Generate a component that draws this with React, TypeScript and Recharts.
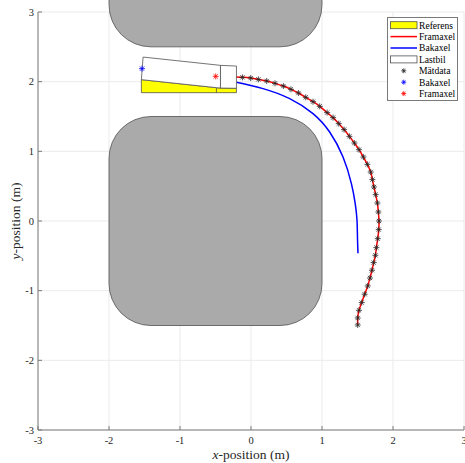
import React from 'react';
import {
  ComposedChart,
  Scatter,
  XAxis,
  YAxis,
  CartesianGrid,
  ReferenceArea,
  Legend,
  Rectangle,
} from 'recharts';

// ---------- data ----------
const xTicks = [-3, -2, -1, 0, 1, 2, 3];
const yTicks = [-3, -2, -1, 0, 1, 2, 3];

// obstacles (x1, x2, y1, y2)
const obstacleTop = { x1: -2, x2: 1, y1: 2.5, y2: 4 };
const obstacleMid = { x1: -2, x2: 1, y1: -1.5, y2: 1.5 };

// measured front-axle positions (Mätdata)
const matX = [-0.121, -0.004, 0.104, 0.221, 0.338, 0.456, 0.563, 0.668, 0.771, 0.874, 0.968, 1.072, 1.156, 1.236, 1.311, 1.386, 1.456, 1.521, 1.583, 1.639, 1.686, 1.710, 1.732, 1.756, 1.780, 1.794, 1.803, 1.799, 1.785, 1.766, 1.752, 1.728, 1.704, 1.676, 1.644, 1.601, 1.559, 1.521, 1.503, 1.503];
const matY = [2.062, 2.052, 2.033, 2.010, 1.976, 1.937, 1.890, 1.837, 1.775, 1.713, 1.646, 1.556, 1.484, 1.398, 1.312, 1.215, 1.119, 1.024, 0.918, 0.813, 0.703, 0.594, 0.488, 0.379, 0.258, 0.129, 0.000, -0.123, -0.253, -0.382, -0.492, -0.597, -0.707, -0.818, -0.932, -1.051, -1.171, -1.282, -1.392, -1.492];

// front axle path (Framaxel)
const frontX = [-0.206, -0.121, -0.004, 0.104, 0.221, 0.338, 0.456, 0.563, 0.668, 0.771, 0.874, 0.968, 1.072, 1.156, 1.236, 1.311, 1.386, 1.456, 1.521, 1.583, 1.639, 1.686, 1.710, 1.732, 1.756, 1.780, 1.794, 1.803, 1.799, 1.785, 1.766, 1.752, 1.728, 1.704, 1.676, 1.644, 1.601, 1.559, 1.521, 1.503, 1.503];
const frontY = [2.066, 2.062, 2.052, 2.033, 2.010, 1.976, 1.937, 1.890, 1.837, 1.775, 1.713, 1.646, 1.556, 1.484, 1.398, 1.312, 1.215, 1.119, 1.024, 0.918, 0.813, 0.703, 0.594, 0.488, 0.379, 0.258, 0.129, 0.000, -0.123, -0.253, -0.382, -0.492, -0.597, -0.707, -0.818, -0.932, -1.051, -1.171, -1.282, -1.392, -1.492];

// rear axle path (Bakaxel)
const rearX = [-0.206, 0.169, 0.545, 0.873, 1.108, 1.296, 1.414, 1.468, 1.493, 1.500, 1.507];
const rearY = [1.992, 1.900, 1.756, 1.541, 1.277, 0.918, 0.537, 0.250, 0.010, -0.250, -0.463];

// reference truck (Referens), visible part
const refX = [-1.544, -0.205, -0.205, -0.430, -0.487, -1.544];
const refY = [1.842, 1.842, 1.905, 1.908, 1.914, 2.029];
const refDivX = [-0.487, -0.487];
const refDivY = [1.842, 1.914];

// truck (Lastbil): trailer and cab
const trailerX = [-1.520, -0.430, -0.430, -0.487, -1.544];
const trailerY = [2.353, 2.234, 1.908, 1.914, 2.029];
const cabX = [-0.430, -0.205, -0.205, -0.430];
const cabY = [2.234, 2.224, 1.905, 1.908];

// current axle estimates
const rearStarX = [-1.535];
const rearStarY = [2.187];
const frontStarX = [-0.497];
const frontStarY = [2.076];

const legendLabels = ['Referens', 'Framaxel', 'Bakaxel', 'Lastbil', 'Mätdata', 'Bakaxel', 'Framaxel'];

const zip = (xs: number[], ys: number[]) => xs.map((x, i) => ({ x, y: ys[i] }));

// ---------- styles ----------
const FONT = "'Liberation Serif', 'Times New Roman', serif";
const AXIS_COLOR = '#7a7a7a';
const EDGE = '#505050';

const noShape = () => <g />;

const polygonLine = (fill: string, stroke: string) => (props: any) => {
  const pts = (props.points || []) as { x: number; y: number }[];
  return (
    <polygon
      points={pts.map((p) => `${p.x},${p.y}`).join(' ')}
      fill={fill}
      stroke={stroke}
      strokeWidth={0.8}
    />
  );
};

const segmentLine = (stroke: string) => (props: any) => {
  const pts = (props.points || []) as { x: number; y: number }[];
  return (
    <polyline
      points={pts.map((p) => `${p.x},${p.y}`).join(' ')}
      fill="none"
      stroke={stroke}
      strokeWidth={0.8}
    />
  );
};

const starShape = (color: string, r = 3) => (props: any) => {
  const { cx, cy } = props;
  const d = r * 0.7071;
  return (
    <g stroke={color} strokeWidth={0.8}>
      <line x1={cx - r} y1={cy} x2={cx + r} y2={cy} />
      <line x1={cx} y1={cy - r} x2={cx} y2={cy + r} />
      <line x1={cx - d} y1={cy - d} x2={cx + d} y2={cy + d} />
      <line x1={cx - d} y1={cy + d} x2={cx + d} y2={cy - d} />
    </g>
  );
};

const XTickBottom = (props: any) => {
  const { x, y, payload } = props;
  return (
    <g>
      <line x1={x} y1={y} x2={x} y2={y - 4} stroke={AXIS_COLOR} />
      <text x={x} y={y + 14} textAnchor="middle" fontFamily={FONT} fontSize={10.5} fill="#262626">
        {payload.value}
      </text>
    </g>
  );
};

const XTickTop = (props: any) => {
  const { x, y } = props;
  return <line x1={x} y1={y} x2={x} y2={y + 4} stroke={AXIS_COLOR} />;
};

const YTickLeft = (props: any) => {
  const { x, y, payload } = props;
  return (
    <g>
      <line x1={x} y1={y} x2={x + 4} y2={y} stroke={AXIS_COLOR} />
      <text x={x - 4} y={y + 3.5} textAnchor="end" fontFamily={FONT} fontSize={10.5} fill="#262626">
        {payload.value}
      </text>
    </g>
  );
};

const YTickRight = (props: any) => {
  const { x, y } = props;
  return <line x1={x} y1={y} x2={x - 4} y2={y} stroke={AXIS_COLOR} />;
};

const XLabel = (props: any) => {
  const vb = props.viewBox || {};
  const cx = (vb.x || 0) + (vb.width || 0) / 2;
  return (
    <text x={cx} y={459} textAnchor="middle" fontFamily={FONT} fontSize={13.5} fill="#262626">
      <tspan fontStyle="italic">x</tspan>-position (m)
    </text>
  );
};

const YLabel = (props: any) => {
  const vb = props.viewBox || {};
  const cy = (vb.y || 0) + (vb.height || 0) / 2;
  return (
    <text
      x={19.5}
      y={cy}
      transform={`rotate(-90, 19.5, ${cy})`}
      textAnchor="middle"
      fontFamily={FONT}
      fontSize={13.5}
      fill="#262626"
    >
      <tspan fontStyle="italic">y</tspan>-position (m)
    </text>
  );
};

const LegendBox = () => {
  const rowY = (i: number) => 8.2 + i * 11.4;
  const iconL = 3.5;
  const iconR = 30;
  const iconMid = (iconL + iconR) / 2;
  const icons = [
    <rect key="i0" x={iconL} y={rowY(0) - 3.5} width={iconR - iconL} height={7} fill="#ffff00" stroke={EDGE} strokeWidth={0.8} />,
    <line key="i1" x1={iconL} y1={rowY(1)} x2={iconR} y2={rowY(1)} stroke="#ff0000" strokeWidth={1.5} />,
    <line key="i2" x1={iconL} y1={rowY(2)} x2={iconR} y2={rowY(2)} stroke="#0000ff" strokeWidth={1.5} />,
    <rect key="i3" x={iconL} y={rowY(3) - 3.5} width={iconR - iconL} height={7} fill="#ffffff" stroke={EDGE} strokeWidth={0.8} />,
    <g key="i4">{starShape('#262626', 2.5)({ cx: iconMid, cy: rowY(4) })}</g>,
    <g key="i5">{starShape('#0000ff', 2.5)({ cx: iconMid, cy: rowY(5) })}</g>,
    <g key="i6">{starShape('#ff0000', 2.5)({ cx: iconMid, cy: rowY(6) })}</g>,
  ];
  return (
    <svg width={71} height={84} style={{ display: 'block' }}>
      <rect x={0.5} y={0.5} width={70} height={83} fill="#ffffff" stroke={AXIS_COLOR} strokeWidth={1} />
      {icons}
      {legendLabels.map((t, i) => (
        <text key={i} x={32} y={rowY(i) + 3.3} fontFamily={FONT} fontSize={9.6} fill="#000000">
          {t}
        </text>
      ))}
    </svg>
  );
};

const obstacleShape = (radius: number[]) => (props: any) => (
  <Rectangle
    x={props.x}
    y={props.y}
    width={props.width}
    height={props.height}
    radius={radius as any}
    fill="#aaaaaa"
    stroke={EDGE}
    strokeWidth={0.8}
  />
);

export default function App() {
  return (
    <div style={{ position: 'absolute', left: 0, top: 0 }}>
      <ComposedChart
        width={465}
        height={463}
        margin={{ top: 12, right: 1, bottom: 0, left: 0 }}
        style={{ background: '#ffffff' }}
      >
        <CartesianGrid stroke="#ebebeb" strokeWidth={1} />
        <XAxis
          xAxisId={0}
          dataKey="x"
          type="number"
          domain={[-3, 3]}
          ticks={xTicks}
          interval={0}
          allowDataOverflow
          height={33}
          tickSize={0}
          tickMargin={0}
          tickLine={false}
          tick={<XTickBottom />}
          axisLine={{ stroke: AXIS_COLOR }}
          label={{ content: <XLabel /> } as any}
        />
        <XAxis
          xAxisId="top"
          orientation="top"
          type="number"
          domain={[-3, 3]}
          ticks={xTicks}
          interval={0}
          height={0}
          tickSize={0}
          tickMargin={0}
          tickLine={false}
          tick={<XTickTop />}
          axisLine={{ stroke: AXIS_COLOR }}
        />
        <YAxis
          yAxisId={0}
          dataKey="y"
          type="number"
          domain={[-3, 3]}
          ticks={yTicks}
          interval={0}
          allowDataOverflow
          width={38}
          tickSize={0}
          tickMargin={0}
          tickLine={false}
          tick={<YTickLeft />}
          axisLine={{ stroke: AXIS_COLOR }}
          label={{ content: <YLabel /> } as any}
        />
        <YAxis
          yAxisId="right"
          orientation="right"
          type="number"
          domain={[-3, 3]}
          ticks={yTicks}
          interval={0}
          width={0}
          tickSize={0}
          tickMargin={0}
          tickLine={false}
          tick={<YTickRight />}
          axisLine={{ stroke: AXIS_COLOR }}
        />

        <ReferenceArea
          xAxisId={0}
          yAxisId={0}
          x1={obstacleTop.x1}
          x2={obstacleTop.x2}
          y1={obstacleTop.y1}
          y2={obstacleTop.y2}
          ifOverflow="hidden"
          shape={obstacleShape([0, 0, 42, 42])}
        />
        <ReferenceArea
          xAxisId={0}
          yAxisId={0}
          x1={obstacleMid.x1}
          x2={obstacleMid.x2}
          y1={obstacleMid.y1}
          y2={obstacleMid.y2}
          ifOverflow="hidden"
          shape={obstacleShape([42, 42, 42, 42])}
        />

        <Scatter
          name="Referens"
          data={zip(refX, refY)}
          shape={noShape}
          line={polygonLine('#ffff00', EDGE)}
          isAnimationActive={false}
        />
        <Scatter
          name="RefDiv"
          data={zip(refDivX, refDivY)}
          shape={noShape}
          line={segmentLine(EDGE)}
          isAnimationActive={false}
        />
        <Scatter
          name="Framaxel"
          data={zip(frontX, frontY)}
          shape={noShape}
          line={{ stroke: '#ff0000', strokeWidth: 1.5 }}
          lineJointType="natural"
          isAnimationActive={false}
        />
        <Scatter
          name="Bakaxel"
          data={zip(rearX, rearY)}
          shape={noShape}
          line={{ stroke: '#0000ff', strokeWidth: 1.5 }}
          lineJointType="natural"
          isAnimationActive={false}
        />
        <Scatter
          name="Lastbil släp"
          data={zip(trailerX, trailerY)}
          shape={noShape}
          line={polygonLine('#ffffff', EDGE)}
          isAnimationActive={false}
        />
        <Scatter
          name="Lastbil hytt"
          data={zip(cabX, cabY)}
          shape={noShape}
          line={polygonLine('#ffffff', EDGE)}
          isAnimationActive={false}
        />
        <Scatter
          name="Mätdata"
          data={zip(matX, matY)}
          shape={starShape('#262626', 3)}
          isAnimationActive={false}
        />
        <Scatter
          name="Bakaxel punkt"
          data={zip(rearStarX, rearStarY)}
          shape={starShape('#0000ff', 3)}
          isAnimationActive={false}
        />
        <Scatter
          name="Framaxel punkt"
          data={zip(frontStarX, frontStarY)}
          shape={starShape('#ff0000', 3)}
          isAnimationActive={false}
        />

        <Legend
          layout="vertical"
          align="center"
          verticalAlign="middle"
          content={<LegendBox />}
          wrapperStyle={{ position: 'absolute', left: 387, top: 17, width: 71, height: 84, margin: 0, padding: 0 }}
        />
      </ComposedChart>
    </div>
  );
}
